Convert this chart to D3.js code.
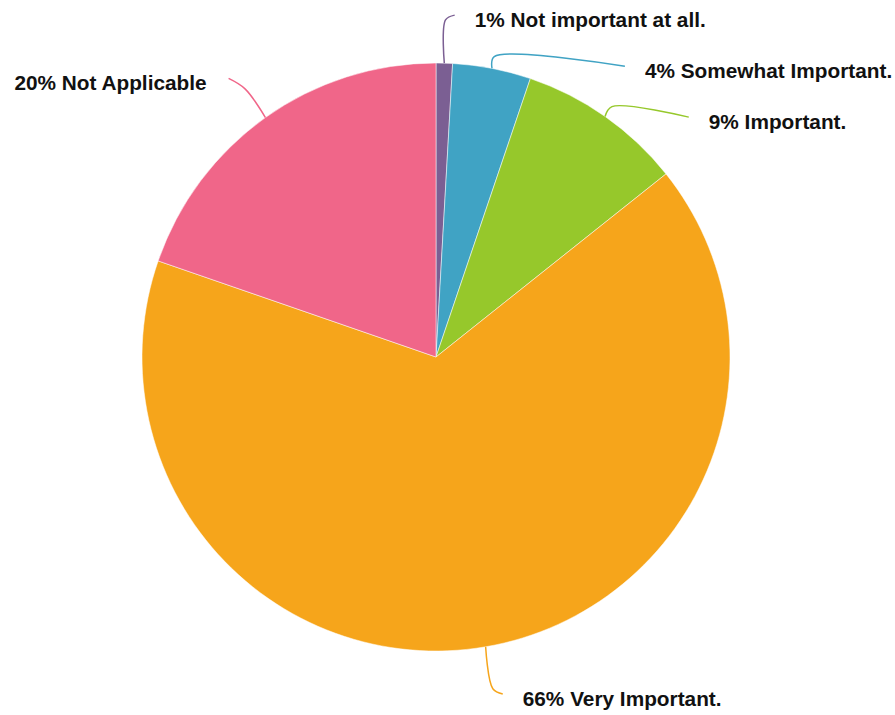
<!DOCTYPE html>
<html><head><meta charset="utf-8">
<script src="https://cdn.jsdelivr.net/npm/d3@7"></script>
<style>html,body{margin:0;padding:0;background:#fff;}</style>
</head><body>
<svg id="chart" width="895" height="715"></svg>
<script>
const labels = ["Not important at all.", "Somewhat Important.", "Important.", "Very Important.", "Not Applicable"];
const values = [0.9, 4.3, 9.1, 66.0, 19.7];
const percentLabels = ["1%", "4%", "9%", "66%", "20%"];
const colors = ["#7b5f93", "#40a3c4", "#96c82b", "#f6a51b", "#f06689"];

const W = 895, H = 715;
const cx = 436, cy = 357, R = 294, labelR = 342, spacing = 51, hShift = 9;
const svg = d3.select("#chart");
const g = svg.append("g").attr("transform", `translate(${cx},${cy})`);

const data = labels.map((l, i) => ({label: l, value: values[i], pct: percentLabels[i], color: colors[i]}));
const pie = d3.pie().value(d => d.value).sort(null);
const arcs = pie(data);
const arc = d3.arc().innerRadius(0).outerRadius(R);

g.selectAll("path.slice").data(arcs).enter().append("path")
  .attr("class", "slice")
  .attr("d", arc)
  .attr("fill", d => d.data.color)
  .attr("stroke", "#ffffff").attr("stroke-opacity", 0.5).attr("stroke-width", 1);

const pt = (a, r) => [Math.sin(a) * r, -Math.cos(a) * r];
arcs.forEach(d => {
  d.mid = (d.startAngle + d.endAngle) / 2;
  d.right = d.mid < Math.PI;
  const p = pt(d.mid, labelR);
  d.ex = p[0]; d.ey = p[1];
});
["right", "left"].forEach(side => {
  const list = arcs.filter(d => (side === "right") === d.right).sort((a, b) => a.ey - b.ey);
  for (let i = 1; i < list.length; i++) {
    const prev = list[i - 1], cur = list[i];
    if (cur.ey < prev.ey + spacing) {
      cur.ey = prev.ey + spacing;
      const dx = Math.sqrt(Math.max(0, labelR * labelR - cur.ey * cur.ey));
      cur.ex = side === "right" ? dx : -dx;
    }
  }
});
arcs.forEach(d => { d.ex += d.right ? hShift : -hShift; });

const line = d3.line().curve(d3.curveCatmullRom.alpha(0.5));
arcs.forEach(d => {
  const p0 = pt(d.mid, R);
  const ext = Math.max(12, Math.abs(d.ey - p0[1]) * 0.9);
  const p1 = pt(d.mid, R + ext);
  const p2 = [d.ex, d.ey];
  g.append("path")
    .attr("d", line([p0, p1, p2]))
    .attr("fill", "none")
    .attr("stroke", d.data.color)
    .attr("stroke-width", 1.5);
  g.append("text")
    .attr("x", d.right ? d.ex + 20 : d.ex - 22)
    .attr("y", d.ey + 11.8)
    .attr("text-anchor", d.right ? "start" : "end")
    .attr("font-family", "Liberation Sans, Arial, Helvetica, sans-serif")
    .attr("font-weight", "bold")
    .attr("font-size", "20.8px")
    .attr("fill", "#111")
    .text(d.data.pct + " " + d.data.label);
});
</script>
</body></html>
